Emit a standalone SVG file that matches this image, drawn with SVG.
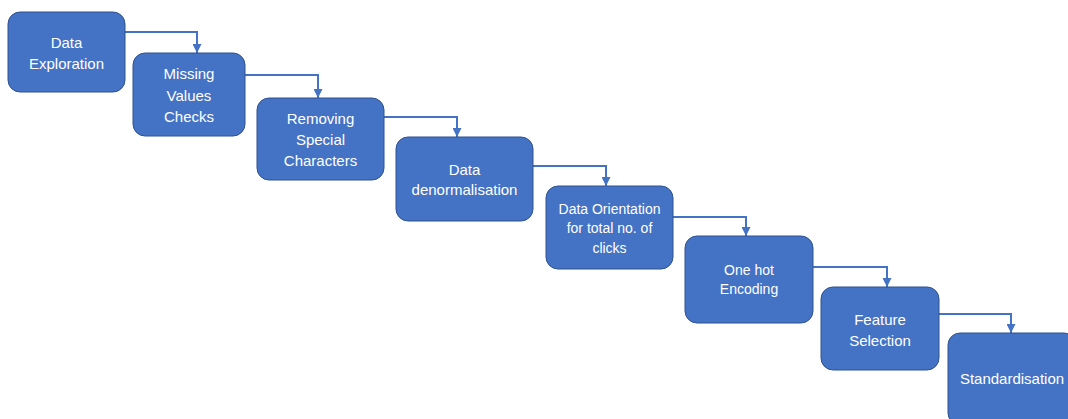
<svg xmlns="http://www.w3.org/2000/svg" width="1068" height="419" viewBox="0 0 1068 419">
  <defs>
    <marker id="arrow" viewBox="0 0 10 10" refX="10" refY="5" markerWidth="4.5" markerHeight="4.5" orient="auto" markerUnits="strokeWidth">
      <path d="M0,0 L10,5 L0,10 Z" fill="#4472C4"/>
    </marker>
    <style>
      .box { fill: #4472C4; stroke: #2F528F; stroke-width: 1; }
      .lbl { fill: #FFFFFF; font-family: "Liberation Sans", Arial, sans-serif; font-size: 15px; text-anchor: middle; dominant-baseline: central; }
      .sm { font-size: 14px; }
      .conn { fill: none; stroke: #4472C4; stroke-width: 2; marker-end: url(#arrow); }
    </style>
  </defs>
  <rect width="1068" height="419" fill="#FFFFFF"/>

  <!-- step-to-step connectors -->
  <g id="connectors">
    <path class="conn" d="M125,32 H197 V53"/>
    <path class="conn" d="M245,75 H318 V98"/>
    <path class="conn" d="M384,117 H457 V137"/>
    <path class="conn" d="M533,166 H606 V186"/>
    <path class="conn" d="M673,217 H746 V236"/>
    <path class="conn" d="M813,267 H887 V287"/>
    <path class="conn" d="M939,314 H1011 V333"/>
  </g>

  <g id="data-exploration">
    <rect class="box" x="8" y="12" width="117" height="80" rx="12"/>
    <text class="lbl" x="66.5" y="42">Data</text>
    <text class="lbl" x="66.5" y="63">Exploration</text>
  </g>

  <g id="missing-values">
    <rect class="box" x="133" y="53" width="112" height="83" rx="12"/>
    <text class="lbl" x="189" y="73.5">Missing</text>
    <text class="lbl" x="189" y="95">Values</text>
    <text class="lbl" x="189" y="116">Checks</text>
  </g>

  <g id="special-chars">
    <rect class="box" x="257" y="98" width="127" height="82" rx="12"/>
    <text class="lbl" x="320.5" y="118">Removing</text>
    <text class="lbl" x="320.5" y="139">Special</text>
    <text class="lbl" x="320.5" y="160">Characters</text>
  </g>

  <g id="denormalisation">
    <rect class="box" x="396" y="137" width="137" height="84" rx="12"/>
    <text class="lbl" x="464.5" y="169">Data</text>
    <text class="lbl" x="464.5" y="189.5">denormalisation</text>
  </g>

  <g id="orientation">
    <rect class="box" x="546" y="186" width="127" height="83" rx="12"/>
    <text class="lbl sm" x="609.5" y="208.5">Data Orientation</text>
    <text class="lbl sm" x="609.5" y="228">for total no. of</text>
    <text class="lbl sm" x="609.5" y="247.5">clicks</text>
  </g>

  <g id="one-hot">
    <rect class="box" x="685" y="236" width="128" height="87" rx="12"/>
    <text class="lbl sm" x="749" y="270">One hot</text>
    <text class="lbl sm" x="749" y="289">Encoding</text>
  </g>

  <g id="feature-selection">
    <rect class="box" x="821" y="287" width="118" height="83" rx="12"/>
    <text class="lbl" x="880" y="319">Feature</text>
    <text class="lbl" x="880" y="340">Selection</text>
  </g>

  <g id="standardisation">
    <rect class="box" x="948" y="333" width="128" height="92" rx="12"/>
    <text class="lbl" x="1012" y="378">Standardisation</text>
  </g>
</svg>
